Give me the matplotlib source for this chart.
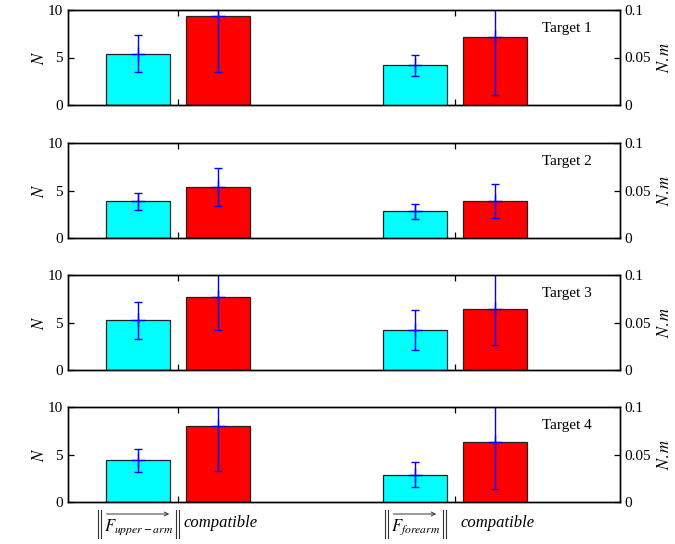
import matplotlib
matplotlib.use("Agg")
import matplotlib.pyplot as plt
from matplotlib.lines import Line2D
from matplotlib.patches import FancyArrowPatch

plt.rcParams["font.family"] = ["Liberation Serif", "DejaVu Serif"]
plt.rcParams["mathtext.fontset"] = "stix"

# ── data ────────────────────────────────────────────────────────────────────
targets = ["Target 1", "Target 2", "Target 3", "Target 4"]

# upper arm force, N (left axis)
upper_mean = [5.4, 3.85, 5.25, 4.4]
upper_err = [1.97, 0.88, 1.95, 1.2]
upper_comp_mean = [9.4, 5.4, 7.7, 8.0]
upper_comp_err = [5.93, 2.0, 3.5, 4.7]

# forearm torque, N.m (right axis)
fore_mean = [0.042, 0.028, 0.0425, 0.0288]
fore_err = [0.011, 0.0083, 0.021, 0.0133]
fore_comp_mean = [0.0716, 0.0389, 0.0645, 0.0629]
fore_comp_err = [0.061, 0.0182, 0.0385, 0.0488]

group_x = [1, 2]
group_subs = ["upper-arm", "forearm"]
off = 0.143
bw = 0.231

W, H = 675.0, 544.0
fig = plt.figure(figsize=(W / 100, H / 100), dpi=100)

tops = [10, 143, 275, 407]
last_ax = None
for i, top in enumerate(tops):
    ax = fig.add_axes([68 / W, 1 - (top + 95) / H, 552 / W, 95 / H])
    ax2 = ax.twinx()

    ax.bar(group_x[0] - off, upper_mean[i], bw, color="#00FFFF",
           edgecolor="#222222", linewidth=0.9)
    ax.bar(group_x[0] + off, upper_comp_mean[i], bw, color="#FF0000",
           edgecolor="#222222", linewidth=0.9)
    ax.errorbar([group_x[0] - off, group_x[0] + off],
                [upper_mean[i], upper_comp_mean[i]],
                yerr=[upper_err[i], upper_comp_err[i]],
                fmt="+", color="#0000FF", ecolor="#0000FF", elinewidth=1,
                capsize=3, markersize=10, markeredgewidth=1)

    ax2.bar(group_x[1] - off, fore_mean[i], bw, color="#00FFFF",
            edgecolor="#222222", linewidth=0.9)
    ax2.bar(group_x[1] + off, fore_comp_mean[i], bw, color="#FF0000",
            edgecolor="#222222", linewidth=0.9)
    ax2.errorbar([group_x[1] - off, group_x[1] + off],
                 [fore_mean[i], fore_comp_mean[i]],
                 yerr=[fore_err[i], fore_comp_err[i]],
                 fmt="+", color="#0000FF", ecolor="#0000FF", elinewidth=1,
                 capsize=3, markersize=10, markeredgewidth=1)

    ax.set_xlim(0.603, 2.596)
    ax.set_ylim(0, 10)
    ax2.set_ylim(0, 0.1)
    ax.set_yticks([0, 5, 10])
    ax2.set_yticks([0, 0.05, 0.1])
    ax2.set_yticklabels(["0", "0.05", "0.1"])
    ax.set_xticks(group_x)
    ax.set_xticklabels([])
    ax.tick_params(axis="both", direction="in", length=4, labelsize=11,
                   top=True, width=0.9)
    ax2.tick_params(axis="y", direction="in", length=4, labelsize=11,
                    width=0.9)
    ax.set_ylabel("$N$", fontsize=12, labelpad=0)
    ax2.set_ylabel("$N.m$", fontsize=12, labelpad=4)
    for a in (ax, ax2):
        for s in a.spines.values():
            s.set_linewidth(1.0)

    ax.text(0.904, 0.81, targets[i], transform=ax.transAxes,
            ha="center", va="center", fontsize=11)
    last_ax = ax

# ── x labels under the last panel: ||F->|| and "compatible" ─────────────────
renderer = fig.canvas.get_renderer()
to_fig = fig.transFigure.inverted()
for gx, sub in zip(group_x, group_subs):
    cx = to_fig.transform(last_ax.transData.transform((gx - off, 0)))[0]
    rx = to_fig.transform(last_ax.transData.transform((gx + off, 0)))[0]
    t = fig.text(cx, 1 - 527 / H, rf"$F_{{{sub}}}$", ha="center",
                 va="center", fontsize=12)
    bb = t.get_window_extent(renderer)
    x0, x1 = bb.x0, bb.x1
    # double bars on both sides
    for xx in (x0 - 3, x0 - 6, x1 + 3, x1 + 6):
        fig.add_artist(Line2D([xx / W, xx / W], [1 - 510 / H, 1 - 538 / H],
                              color="#333333", lw=0.8))
    # arrow on top
    fig.add_artist(FancyArrowPatch((x0 / W, 1 - 514 / H),
                                   ((x1 - 1) / W, 1 - 514 / H),
                                   arrowstyle="->", mutation_scale=7,
                                   lw=0.7, color="#333333"))
    fig.text(rx + 3 / W, 1 - 523 / H, "compatible", style="italic",
             ha="center", va="center", fontsize=12)

fig.savefig("out.png", dpi=100)
